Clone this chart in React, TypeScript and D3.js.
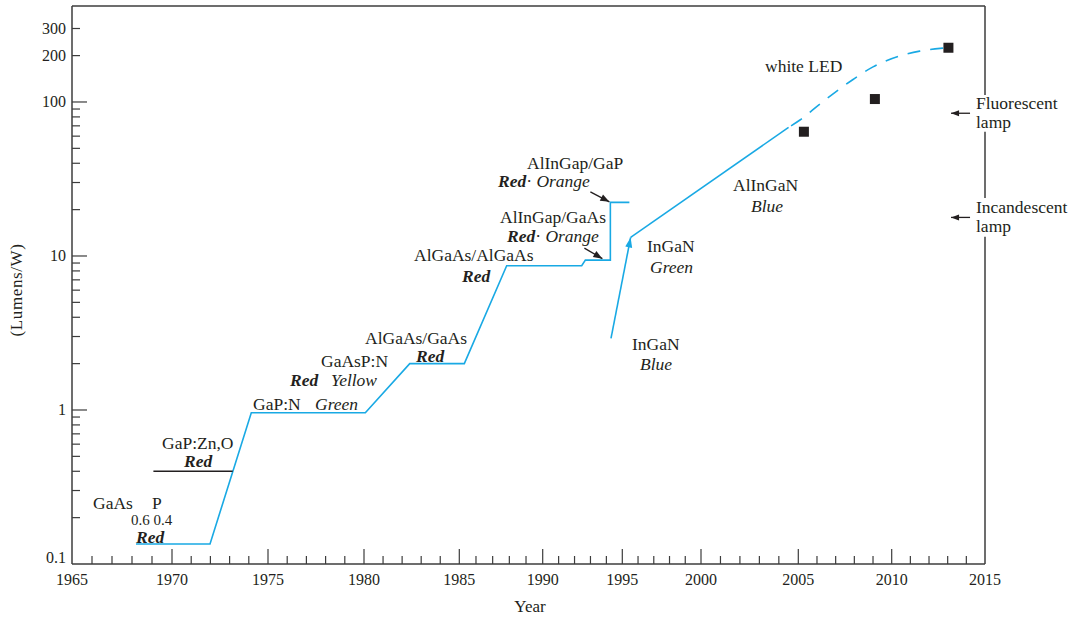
import React from "react";
import * as d3 from "d3";

// ---- axis ticks ----
const yearTicks = [1965, 1970, 1975, 1980, 1985, 1990, 1995, 2000, 2005, 2010, 2015];
const valueTicks = [0.1, 1, 10, 100, 200, 300];
const valueTickLabels = ["0.1", "1", "10", "100", "200", "300"];

// ---- red-family step line (blue trace) ----
const stepYears = [1968.2, 1971.98, 1974.13, 1980.07, 1982.4, 1985.3, 1987.84, 1992.45, 1992.68, 1994.25, 1994.25, 1995.45];
const stepValues = [0.135, 0.135, 0.96, 0.96, 2.0, 2.0, 8.65, 8.65, 9.4, 9.4, 22.3, 22.3];

// ---- GaP:Zn,O red (black) ----
const gapZnYears = [1969.07, 1973.16];
const gapZnValues = [0.4, 0.4];

// ---- InGaN blue arrow ----
const inganYears = [1994.29, 1995.53];
const inganValues = [2.92, 13.2];

// ---- InGaN green -> AlInGaN (solid) ----
const alinganYears = [1995.53, 2004.5];
const alinganValues = [13.2, 68.4];

// ---- white LED projection (dashed) ----
const whiteLedYears = [2004.5, 2005.09, 2006.16, 2007.93, 2009.0, 2010.44, 2011.5, 2012.6, 2013.06];
const whiteLedValues = [68.4, 76.4, 97, 140, 169, 199, 214, 223, 225];

// ---- white LED measured points ----
const squareYears = [2005.3, 2009.1, 2013.04];
const squareValues = [64.1, 104.5, 225];

// ---- lamps ----
const lampNames = ["Fluorescent", "Incandescent"];
const lampValues = [84.5, 17.8];
const lampYear = 2013.18;

const BLUE = "#19a9e4";
const INK = "#231f20";
const AXIS = "#3c3c3c";
const FONT = "'Liberation Serif', 'Times New Roman', serif";

function arrowHead(tip: [number, number], tail: [number, number], len: number, half: number) {
  const dx = tip[0] - tail[0];
  const dy = tip[1] - tail[1];
  const d = Math.hypot(dx, dy);
  const ux = dx / d, uy = dy / d;
  const bx = tip[0] - ux * len, by = tip[1] - uy * len;
  const px = -uy * half, py = ux * half;
  return `${tip[0]},${tip[1]} ${bx + px},${by + py} ${bx - px},${by - py}`;
}

export default function App() {
  const x = d3.scaleLinear().domain(yearTicks).range([72, 172, 268, 364, 459.3, 542.7, 622.3, 701, 798.3, 891.7, 985]);
  const y = d3.scaleLog().domain([0.1, 420]).range([564, 6]);

  const line = d3.line<[number, number]>().x((d) => x(d[0])).y((d) => y(d[1]));
  const curve = d3.line<[number, number]>().x((d) => x(d[0])).y((d) => y(d[1])).curve(d3.curveMonotoneX);

  const zip = (a: number[], b: number[]) => a.map((v, i) => [v, b[i]] as [number, number]);

  const left = x(1965), right = x(2015), bottom = y(0.1), top = y(420);

  const minorYears = d3.range(1966, 2015).filter((yr) => yr % 5 !== 0);
  const majorYears = yearTicks.slice(1, -1);

  const minorValues: number[] = [];
  [0.1, 1, 10].forEach((dec) => {
    for (let k = 2; k <= 9; k++) minorValues.push(dec * k);
  });

  // arrows toward AlInGaP steps
  const c1: [number, number] = [x(1994.25), y(22.3)];
  const a1tip: [number, number] = [c1[0] - 1, c1[1] - 0.5];
  const a1tail: [number, number] = [a1tip[0] - 19, a1tip[1] - 10];
  const c2: [number, number] = [x(1994.25), y(9.4)];
  const a2tip: [number, number] = [c2[0] - 8, c2[1] - 1.5];
  const a2tail: [number, number] = [a2tip[0] - 18, a2tip[1] - 10.5];

  const ingTip: [number, number] = [x(inganYears[1]), y(inganValues[1])];
  const ingTail: [number, number] = [x(inganYears[0]), y(inganValues[0])];

  const ann = { fontFamily: FONT, fontSize: 17.5, fill: INK } as const;
  const bi = { fontWeight: "bold", fontStyle: "italic" } as const;
  const it = { fontStyle: "italic" } as const;

  // right border broken around lamp labels
  const rightSegs: [number, number][] = [[top, 95], [131.7, 198], [236.7, bottom]];

  return (
    <svg width={1077} height={618} style={{ position: "absolute", left: 0, top: 0, display: "block", background: "#fff" }}>
      {/* frame */}
      <line x1={left} y1={top} x2={right} y2={top} stroke={AXIS} strokeWidth={1.5} />
      <line x1={left} y1={top} x2={left} y2={bottom} stroke={AXIS} strokeWidth={1.5} />
      <line x1={left} y1={bottom} x2={right} y2={bottom} stroke={AXIS} strokeWidth={1.5} />
      {rightSegs.map((s, i) => (
        <line key={i} x1={right} y1={s[0]} x2={right} y2={s[1]} stroke={AXIS} strokeWidth={1.5} />
      ))}

      {/* x ticks */}
      {minorYears.map((yr) => (
        <line key={"mx" + yr} x1={x(yr)} x2={x(yr)} y1={bottom} y2={bottom - 8} stroke={AXIS} strokeWidth={1.2} />
      ))}
      {majorYears.map((yr) => (
        <line key={"Mx" + yr} x1={x(yr)} x2={x(yr)} y1={bottom} y2={bottom - 15} stroke={AXIS} strokeWidth={1.2} />
      ))}
      {yearTicks.map((yr) => (
        <text key={"lx" + yr} x={x(yr)} y={585} textAnchor="middle" fontFamily={FONT} fontSize={16} fill={INK}>
          {yr}
        </text>
      ))}

      {/* y ticks */}
      {minorValues.map((v) => (
        <line key={"my" + v} x1={left} x2={left + 8} y1={y(v)} y2={y(v)} stroke={AXIS} strokeWidth={1.2} />
      ))}
      {[1, 10, 100].map((v) => (
        <line key={"My" + v} x1={left} x2={left + 15} y1={y(v)} y2={y(v)} stroke={AXIS} strokeWidth={1.2} />
      ))}
      {[200, 300].map((v) => (
        <line key={"hy" + v} x1={left} x2={left + 8} y1={y(v)} y2={y(v)} stroke={AXIS} strokeWidth={1.2} />
      ))}
      {valueTicks.map((v, i) => (
        <text key={"ly" + v} x={66} y={v === 0.1 ? y(v) - 1 : y(v) + 5.5} textAnchor="end" fontFamily={FONT} fontSize={16} fill={INK}>
          {valueTickLabels[i]}
        </text>
      ))}

      {/* axis titles */}
      <text x={530} y={612} textAnchor="middle" fontFamily={FONT} fontSize={17} fill={INK}>Year</text>
      <text transform="translate(22,290) rotate(-90)" textAnchor="middle" fontFamily={FONT} fontSize={17} letterSpacing={0.6} fill={INK}>(Lumens/W)</text>

      {/* data lines */}
      <path d={line(zip(stepYears, stepValues)) || ""} fill="none" stroke={BLUE} strokeWidth={1.6} />
      <path d={line(zip(gapZnYears, gapZnValues)) || ""} fill="none" stroke={INK} strokeWidth={1.4} />
      <path d={line(zip(inganYears, inganValues)) || ""} fill="none" stroke={BLUE} strokeWidth={1.6} />
      <polygon points={arrowHead(ingTip, ingTail, 10, 3.5)} fill={BLUE} />
      <path d={line(zip(alinganYears, alinganValues)) || ""} fill="none" stroke={BLUE} strokeWidth={1.6} />
      <path d={curve(zip(whiteLedYears, whiteLedValues)) || ""} fill="none" stroke={BLUE} strokeWidth={1.6} strokeDasharray="0 3 13 7" />

      {squareYears.map((yr, i) => (
        <rect key={"sq" + i} x={x(yr) - 5} y={y(squareValues[i]) - 5} width={10} height={10} fill={INK} />
      ))}

      {/* black annotation arrows */}
      <line x1={a1tail[0]} y1={a1tail[1]} x2={a1tip[0]} y2={a1tip[1]} stroke={INK} strokeWidth={1.3} />
      <polygon points={arrowHead(a1tip, a1tail, 9, 3.5)} fill={INK} />
      <line x1={a2tail[0]} y1={a2tail[1]} x2={a2tip[0]} y2={a2tip[1]} stroke={INK} strokeWidth={1.3} />
      <polygon points={arrowHead(a2tip, a2tail, 9, 3.5)} fill={INK} />

      {/* lamp arrows */}
      {lampValues.map((v, i) => {
        const tip: [number, number] = [x(lampYear), y(v)];
        const tail: [number, number] = [tip[0] + 19, tip[1]];
        return (
          <g key={"lamp" + i}>
            <line x1={tail[0]} y1={tail[1]} x2={tip[0]} y2={tip[1]} stroke={INK} strokeWidth={1.3} />
            <polygon points={arrowHead(tip, tail, 8, 3)} fill={INK} />
            <text x={976} y={y(v) - 4} {...ann}>{lampNames[i]}</text>
            <text x={976} y={y(v) + 15} {...ann}>lamp</text>
          </g>
        );
      })}

      {/* annotations */}
      <text x={93} y={509} {...ann}>GaAs</text>
      <text x={152} y={509} {...ann}>P</text>
      <text x={131} y={525} {...ann} fontSize={15}>0.6 0.4</text>
      <text x={136} y={543} {...ann} {...bi}>Red</text>

      <text x={162} y={449} {...ann}>GaP:Zn,O</text>
      <text x={184} y={467} {...ann} {...bi}>Red</text>

      <text x={253} y={410} {...ann}>GaP:N</text>
      <text x={315} y={410} {...ann} {...it}>Green</text>

      <text x={290} y={386} {...ann} {...bi}>Red</text>
      <text x={331} y={386} {...ann} {...it}>Yellow</text>
      <text x={321} y={367} {...ann}>GaAsP:N</text>

      <text x={365} y={344} {...ann}>AlGaAs/GaAs</text>
      <text x={416} y={362} {...ann} {...bi}>Red</text>

      <text x={414} y={261} {...ann}>AlGaAs/AlGaAs</text>
      <text x={462} y={282} {...ann} {...bi}>Red</text>

      <text x={500} y={223} {...ann}>AlInGap/GaAs</text>
      <text x={507} y={242} {...ann}>
        <tspan {...bi}>Red</tspan>
        <tspan>· </tspan>
        <tspan {...it}>Orange</tspan>
      </text>

      <text x={527} y={169} {...ann}>AlInGap/GaP</text>
      <text x={498} y={187} {...ann}>
        <tspan {...bi}>Red</tspan>
        <tspan>· </tspan>
        <tspan {...it}>Orange</tspan>
      </text>

      <text x={647} y={252} {...ann}>InGaN</text>
      <text x={650} y={273} {...ann} {...it}>Green</text>
      <text x={632} y={350} {...ann}>InGaN</text>
      <text x={640} y={370} {...ann} {...it}>Blue</text>

      <text x={733} y={191} {...ann}>AlInGaN</text>
      <text x={751} y={212} {...ann} {...it}>Blue</text>

      <text x={765} y={72} {...ann}>white LED</text>
    </svg>
  );
}
